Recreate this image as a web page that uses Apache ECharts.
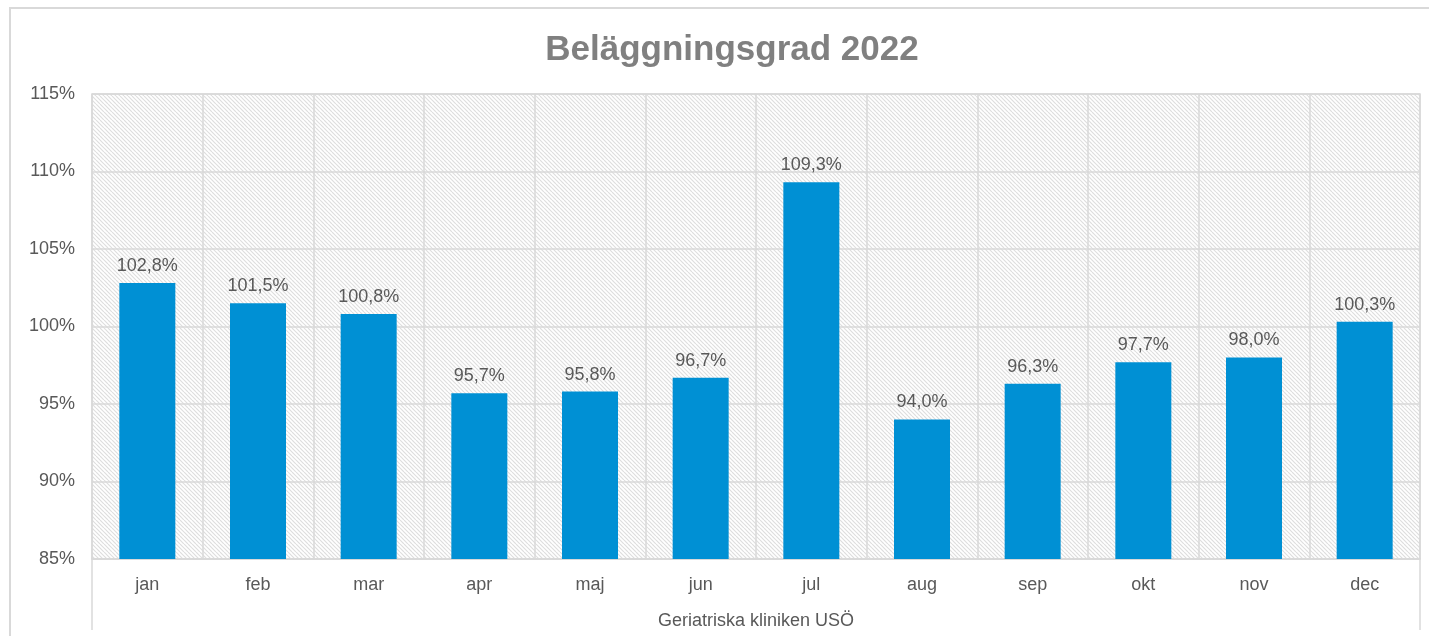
<!DOCTYPE html>
<html><head><meta charset="utf-8">
<script src="https://cdn.jsdelivr.net/npm/echarts@6/dist/echarts.min.js"></script>
<style>html,body{margin:0;padding:0;background:#fff}#c{width:1429px;height:636px}</style>
</head><body><div id="c"></div>
<script>
const categories = ['jan','feb','mar','apr','maj','jun','jul','aug','sep','okt','nov','dec'];
const values = [102.8, 101.5, 100.8, 95.7, 95.8, 96.7, 109.3, 94.0, 96.3, 97.7, 98.0, 100.3];
const titleText = 'Beläggningsgrad 2022';
const xName = 'Geriatriska kliniken USÖ';

const pc = document.createElement('canvas');
pc.width = 8; pc.height = 8;
const g = pc.getContext('2d');
g.fillStyle = '#ffffff'; g.fillRect(0,0,8,8);
g.strokeStyle = '#dedede'; g.lineWidth = 1.2;
g.beginPath();
for (let k = -8; k <= 16; k += 4) { g.moveTo(k, 0); g.lineTo(k + 8, 8); }
g.stroke();

const font = 'Liberation Sans, Arial, sans-serif';
const chart = echarts.init(document.getElementById('c'));
chart.setOption({
  animation: false,
  backgroundColor: '#fff',
  title: { text: titleText, left: 727, top: 28, textAlign: 'center',
    textStyle: { fontFamily: font, fontSize: 35, fontWeight: 'bold', color: '#808080' } },
  graphic: [
    { type: 'rect', shape: { x: 10, y: 8, width: 1440, height: 660 }, style: { fill: null, stroke: '#d9d9d9', lineWidth: 2 }, z: 100 },
    { type: 'line', shape: { x1: 92, y1: 558, x2: 92, y2: 630 }, style: { stroke: '#d9d9d9', lineWidth: 1.5 }, z: 100 },
    { type: 'line', shape: { x1: 1420, y1: 558, x2: 1420, y2: 630 }, style: { stroke: '#d9d9d9', lineWidth: 1.5 }, z: 100 }
  ],
  grid: { left: 92, right: 9, top: 94, bottom: 77, show: true,
    backgroundColor: { image: pc, repeat: 'repeat' }, borderColor: '#d9d9d9', borderWidth: 1.5 },
  xAxis: { type: 'category', data: categories,
    name: xName, nameLocation: 'middle', nameGap: 53,
    nameTextStyle: { fontFamily: font, fontSize: 18, color: '#595959' },
    axisLine: { show: true, lineStyle: { color: '#d9d9d9', width: 1.5 } },
    axisTick: { show: false },
    axisLabel: { fontFamily: font, fontSize: 18, color: '#595959', margin: 17 },
    splitLine: { show: true, lineStyle: { color: '#d9d9d9', width: 1.5 } } },
  yAxis: { type: 'value', min: 85, max: 115, interval: 5,
    axisLine: { show: false }, axisTick: { show: false },
    axisLabel: { fontFamily: font, fontSize: 18, color: '#595959', margin: 17, formatter: v => v + '%' },
    splitLine: { lineStyle: { color: '#d9d9d9', width: 1.5 } } },
  series: [{ type: 'bar', data: values, barWidth: 56,
    itemStyle: { color: '#0090D4' },
    label: { show: true, position: 'top', distance: 8, fontFamily: font, fontSize: 18, color: '#595959',
      formatter: p => p.value.toFixed(1).replace('.', ',') + '%' } }]
});
</script></body></html>
